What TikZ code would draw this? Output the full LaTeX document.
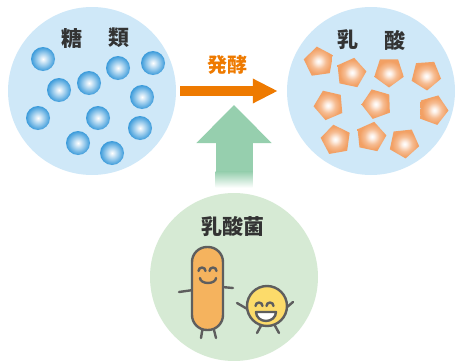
\documentclass[tikz,border=0pt]{standalone}
\usepackage{fontspec}
\newfontfamily\jp{Noto Sans CJK JP}
\usepackage{tikz}
\usetikzlibrary{shapes.geometric, arrows.meta}

\definecolor{poolblue}{HTML}{CFE8F8}
\definecolor{poolgreen}{HTML}{D6EAD4}
\definecolor{ballblue}{HTML}{3A9ADA}
\definecolor{gemorange}{HTML}{F2A064}
\definecolor{fermorange}{HTML}{EE7A00}
\definecolor{pushgreen}{HTML}{96CFAE}
\definecolor{inkgray}{HTML}{333333}
\definecolor{linegray}{HTML}{5E5E5E}
\definecolor{rodorange}{HTML}{F5B35E}
\definecolor{cocyellow}{HTML}{FCDB6A}

\pgfdeclareradialshading{bubble}{\pgfpointorigin}{color(0bp)=(white); color(4bp)=(white!85!ballblue); color(14bp)=(ballblue!55); color(25bp)=(ballblue); color(50bp)=(ballblue)}
\pgfdeclareradialshading{gem}{\pgfpointorigin}{color(0bp)=(white); color(4bp)=(white!85!gemorange); color(13bp)=(gemorange!70); color(22bp)=(gemorange); color(50bp)=(gemorange)}

\tikzstyle{arrow} = [line width=10pt,fermorange,-{Triangle[length=25pt,width=23pt]}]

\begin{document}
\begin{tikzpicture}[x=1pt,y=1pt,
	pool/.style={circle, minimum size=168pt, inner sep=0pt},
	title/.style={text=inkgray, font=\jp\bfseries\fontsize{21}{21}\selectfont},
	ball/.style={circle, minimum size=24pt, inner sep=0pt, shade, shading=bubble},
	gem/.style={regular polygon, regular polygon sides=5, minimum size=31pt, inner sep=0pt, shade, shading=gem},
	body/.style={draw=linegray, line width=2.4pt, line cap=round, line join=round}]
	\useasboundingbox (0,0) rectangle (455,360);
	
	\node[pool,fill=poolblue] (sugar) at (92,269) {};
	\node[pool,fill=poolblue] (acid) at (371,269) {};
	\node[pool,fill=poolgreen] (bacteria) at (234,83) {};
	
	% sugar
	\node[title] at (72,322) {糖};
	\node[title] at (119,322) {類};
	\node[ball] (b1) at (43,301) {};
	\node[ball] (b2) at (153,297) {};
	\node[ball] (b3) at (118,292) {};
	\node[ball] (b4) at (89,277) {};
	\node[ball] (b5) at (59,270) {};
	\node[ball] (b6) at (142,263) {};
	\node[ball] (b7) at (38,242) {};
	\node[ball] (b8) at (98,242) {};
	\node[ball] (b9) at (140,232) {};
	\node[ball] (b10) at (78,217) {};
	\node[ball] (b11) at (112,207) {};
	
	% lactic acid
	\node[title] at (348,320) {乳};
	\node[title] at (395,320) {酸};
	\node[gem,rotate=80] (g1) at (319,298) {};
	\node[gem,rotate=-12] (g2) at (351,287) {};
	\node[gem,rotate=180] (g3) at (389,288) {};
	\node[gem,rotate=40] (g4) at (426,285) {};
	\node[gem,rotate=95] (g5) at (329,255) {};
	\node[gem,rotate=20] (g6) at (377,256) {};
	\node[gem,rotate=-20] (g7) at (433,250) {};
	\node[gem,rotate=10] (g8) at (336,220) {};
	\node[gem,rotate=60] (g9) at (371,223) {};
	\node[gem,rotate=-30] (g10) at (404,217) {};
	
	% fermentation
	\draw[arrow,shorten <=4pt,shorten >=9pt] (sugar) -- (acid);
	\node[text=fermorange,font=\jp\bfseries\fontsize{20}{20}\selectfont] (ferm) at (227,295) {発酵};
	
	\coordinate (push) at (234,255);
	\draw[line width=37pt,pushgreen,-{Triangle[length=38pt,width=73pt]},shorten <=21pt] (bacteria.north) -- (push);
	\shade[bottom color=white,top color=pushgreen] ([xshift=-18.5pt,yshift=5pt]bacteria.north) rectangle ([xshift=18.5pt,yshift=21.2pt]bacteria.north);
	
	% lactic acid bacteria
	\node[title] (name) at (233,133) {乳酸菌};
	
	% rod
	\draw[body] (193,70) -- (179,68);
	\draw[body] (222,73) -- (233,72);
	\draw[body] (203,34) -- (201,22);
	\draw[body] (213,34) -- (216,22);
	\draw[body,fill=rodorange,rounded corners=15pt] (192,30) rectangle (223,113);
	\draw[body] (198.5,89) arc (180:0:3.5);
	\draw[body] (209.5,89) arc (180:0:3.5);
	\draw[body] (200,82) arc (180:360:8 and 5);
	
	% coccus
	\draw[body] (249,50) -- (237,57);
	\draw[body] (286,52) -- (293,58);
	\draw[body] (262,36) -- (257,27);
	\draw[body] (274,36) -- (279,27);
	\draw[body,fill=cocyellow] (267,54) circle (20);
	\draw[body] (255.5,54) arc (180:0:3.5);
	\draw[body] (266.5,54) arc (180:0:3.5);
	\draw[body,fill=white] (256,48) -- (276,48) arc (0:-180:10 and 9) -- cycle;
\end{tikzpicture}
\end{document}
